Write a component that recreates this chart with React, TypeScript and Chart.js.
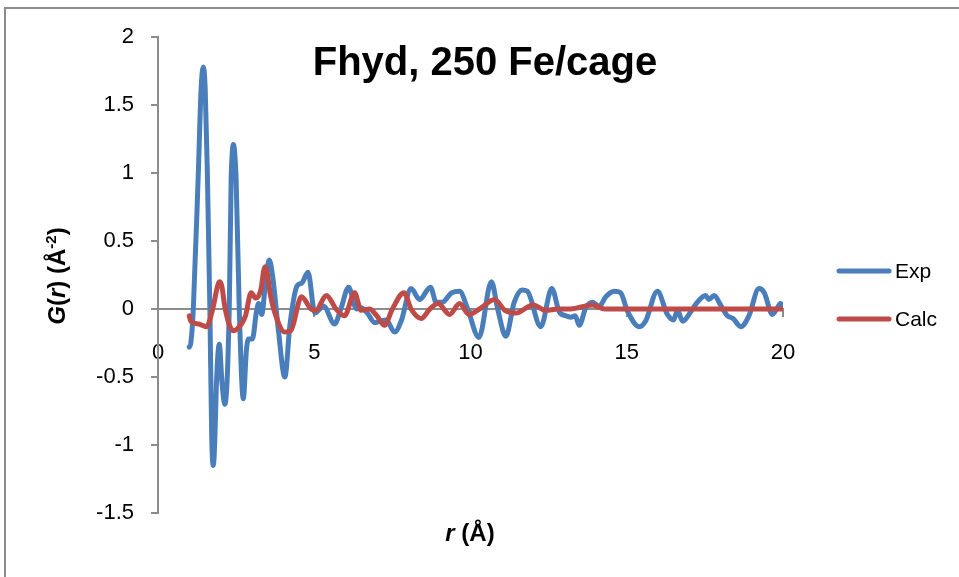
import React, { useEffect, useRef } from "react";
import { Chart, registerables } from "chart.js";

Chart.register(...registerables);

// ---- Data (r in Å, G(r) in Å^-2) ----
const expPoints: [number, number][] = [
  [1.0, -0.28], [1.05, -0.25], [1.13, 0.0], [1.29, 1.0], [1.38, 1.62], [1.45, 1.78], [1.51, 1.62],
  [1.58, 1.0], [1.66, 0.0], [1.72, -0.95], [1.77, -1.15], [1.82, -0.95], [1.87, -0.55], [1.96, -0.26],
  [2.05, -0.55], [2.14, -0.7], [2.28, 0.0], [2.34, 0.95], [2.38, 1.16], [2.41, 1.21], [2.45, 1.16],
  [2.5, 0.95], [2.6, 0.0], [2.73, -0.66], [2.83, -0.3], [2.9, -0.22], [3.02, -0.22],
  [3.15, -0.02], [3.22, 0.04], [3.32, -0.04], [3.45, 0.22], [3.56, 0.36], [3.68, 0.22], [3.85, -0.15],
  [4.06, -0.5], [4.22, -0.12], [4.45, 0.17], [4.6, 0.19], [4.8, 0.27], [5.02, -0.03], [5.3, 0.02],
  [5.65, -0.11], [5.85, 0.0], [6.1, 0.16], [6.35, 0.0], [6.5, 0.01], [6.7, -0.03], [6.93, -0.1],
  [7.1, -0.09], [7.3, -0.08], [7.57, -0.17], [7.78, -0.09], [8.1, 0.15], [8.37, 0.07], [8.72, 0.16],
  [8.9, 0.05], [9.1, 0.05], [9.4, 0.12], [9.65, 0.13], [9.91, 0.0], [10.27, -0.21], [10.67, 0.2],
  [10.87, 0.0], [11.13, -0.2], [11.4, 0.05], [11.65, 0.14], [11.82, 0.13], [12.25, -0.13], [12.6, 0.15],
  [12.84, -0.02], [13.05, -0.05], [13.21, -0.06], [13.35, -0.05], [13.48, -0.12], [13.69, 0.01],
  [13.91, 0.05], [14.12, 0.02], [14.33, 0.09], [14.6, 0.13], [14.8, 0.12], [15.03, -0.02], [15.4, -0.13],
  [15.6, -0.09], [15.98, 0.13], [16.3, -0.04], [16.5, -0.08], [16.62, -0.01], [16.79, -0.09],
  [17.05, -0.02], [17.26, 0.05], [17.52, 0.1], [17.62, 0.07], [17.8, 0.1], [18.0, 0.03], [18.22, -0.05],
  [18.4, -0.07], [18.65, -0.13], [18.91, -0.05], [19.23, 0.15], [19.4, 0.12], [19.66, -0.04],
  [19.8, 0.0], [19.92, 0.04], [20.0, 0.03],
];

const calcPoints: [number, number][] = [
  [1.0, -0.05], [1.05, -0.09], [1.3, -0.11], [1.55, -0.13], [1.75, 0.0], [1.92, 0.18], [1.98, 0.2],
  [2.04, 0.17], [2.15, 0.0], [2.41, -0.16], [2.67, -0.11], [2.8, -0.05], [2.98, 0.12], [3.13, 0.08],
  [3.3, 0.15], [3.38, 0.28], [3.43, 0.31], [3.49, 0.27], [3.6, 0.1], [3.85, -0.1], [4.05, -0.17],
  [4.25, -0.16], [4.59, 0.09], [4.9, 0.0], [5.05, -0.01],
  [5.39, 0.1], [5.7, 0.0], [5.97, -0.05], [6.29, 0.12], [6.5, -0.01], [6.77, 0.0], [7.0, -0.05],
  [7.25, -0.12], [7.5, 0.0], [7.87, 0.12], [8.1, 0.0], [8.42, -0.07], [8.7, 0.0], [8.96, 0.04],
  [9.33, -0.04], [9.65, 0.04], [9.95, -0.04], [10.29, 0.0], [10.77, 0.07], [11.1, -0.01], [11.45, -0.03],
  [12.0, 0.03], [12.4, -0.01], [12.8, 0.0], [13.2, 0.0], [13.9, 0.03], [14.3, 0.0], [15.0, 0.0],
  [16.0, 0.0], [17.0, 0.0], [18.0, 0.0], [19.0, 0.0], [20.0, 0.0],
];

const seriesNames = ["Exp", "Calc"];
const seriesColors = ["#4A7EBB", "#BE4B48"];
const xTicks = [0, 5, 10, 15, 20];
const yTicks = [-1.5, -1, -0.5, 0, 0.5, 1, 1.5, 2];
const titleText = "Fhyd, 250 Fe/cage";

const FONT = '"Liberation Sans", Arial, sans-serif';
const AXIS_GRAY = "#8c8c8c";

type Seg = { t: string; f: string; dy?: number };

function drawRich(ctx: CanvasRenderingContext2D, segs: Seg[], x: number, y: number) {
  let total = 0;
  const widths = segs.map((s) => {
    ctx.font = s.f;
    const w = ctx.measureText(s.t).width;
    total += w;
    return w;
  });
  let cx = x - total / 2;
  ctx.textAlign = "left";
  ctx.textBaseline = "alphabetic";
  segs.forEach((s, i) => {
    ctx.font = s.f;
    ctx.fillText(s.t, cx, y + (s.dy || 0));
    cx += widths[i];
  });
}

const decorPlugin = {
  id: "decor",
  beforeDraw(chart: any) {
    const ctx = chart.ctx as CanvasRenderingContext2D;
    ctx.save();
    ctx.strokeStyle = AXIS_GRAY;
    ctx.lineWidth = 2;
    ctx.beginPath();
    ctx.moveTo(5, 577);
    ctx.lineTo(5, 8);
    ctx.lineTo(959, 8);
    ctx.stroke();
    ctx.restore();
  },
  afterDraw(chart: any) {
    const ctx = chart.ctx as CanvasRenderingContext2D;
    ctx.save();
    ctx.fillStyle = "#000";
    // Title
    ctx.font = `bold 40px ${FONT}`;
    ctx.textAlign = "center";
    ctx.textBaseline = "alphabetic";
    ctx.fillText(titleText, 485, 75);

    // X axis title
    drawRich(
      ctx,
      [
        { t: "r", f: `italic bold 24px ${FONT}` },
        { t: " (Å)", f: `bold 24px ${FONT}` },
      ],
      470,
      541
    );

    // Y axis title (rotated)
    ctx.save();
    ctx.translate(65, 276);
    ctx.rotate(-Math.PI / 2);
    drawRich(
      ctx,
      [
        { t: "G", f: `italic bold 24px ${FONT}` },
        { t: "(", f: `bold 24px ${FONT}` },
        { t: "r", f: `italic bold 24px ${FONT}` },
        { t: ") (Å", f: `bold 24px ${FONT}` },
        { t: "-2", f: `bold 15px ${FONT}`, dy: -9 },
        { t: ")", f: `bold 24px ${FONT}` },
      ],
      0,
      0
    );
    ctx.restore();

    // Legend
    const legendY = [271, 319];
    seriesNames.forEach((name, i) => {
      ctx.strokeStyle = seriesColors[i];
      ctx.lineWidth = 5;
      ctx.lineCap = "round";
      ctx.beginPath();
      ctx.moveTo(839, legendY[i]);
      ctx.lineTo(889, legendY[i]);
      ctx.stroke();
      ctx.fillStyle = "#000";
      ctx.font = `21px ${FONT}`;
      ctx.textAlign = "left";
      ctx.textBaseline = "middle";
      ctx.fillText(name, 895, legendY[i] + 1);
    });
    ctx.restore();
  },
};

export default function App() {
  const canvasRef = useRef<HTMLCanvasElement | null>(null);

  useEffect(() => {
    if (!canvasRef.current) return;
    const chart = new Chart(canvasRef.current, {
      type: "line",
      data: {
        datasets: [
          {
            label: seriesNames[0],
            data: expPoints.map(([x, y]) => ({ x, y })),
            borderColor: seriesColors[0],
            backgroundColor: seriesColors[0],
            borderWidth: 5,
            pointRadius: 0,
            cubicInterpolationMode: "monotone",
            borderCapStyle: "round",
            borderJoinStyle: "round",
            order: 2,
          },
          {
            label: seriesNames[1],
            data: calcPoints.map(([x, y]) => ({ x, y })),
            borderColor: seriesColors[1],
            backgroundColor: seriesColors[1],
            borderWidth: 5,
            pointRadius: 0,
            cubicInterpolationMode: "monotone",
            borderCapStyle: "round",
            borderJoinStyle: "round",
            order: 1,
          },
        ],
      },
      options: {
        responsive: false,
        animation: false,
        devicePixelRatio: 1,
        layout: { padding: { left: 0, top: 37, right: 176, bottom: 64 } },
        plugins: {
          legend: { display: false },
          tooltip: { enabled: false },
          title: { display: false },
        },
        scales: {
          x: {
            type: "linear",
            position: { y: 0 },
            min: 0,
            max: 20,
            afterBuildTicks: (scale: any) => {
              scale.ticks = xTicks.map((v) => ({ value: v }));
            },
            ticks: {
              autoSkip: false,
              maxRotation: 0,
              padding: 24,
              color: "#000",
              font: { family: FONT, size: 22 },
              callback: (v: any) => String(v),
            },
            grid: {
              drawOnChartArea: false,
              drawTicks: true,
              tickLength: 7,
              color: AXIS_GRAY,
              lineWidth: 2,
            },
            border: { display: true, color: AXIS_GRAY, width: 2 },
          },
          y: {
            type: "linear",
            position: "left",
            min: -1.5,
            max: 2,
            afterBuildTicks: (scale: any) => {
              scale.ticks = yTicks.map((v) => ({ value: v }));
            },
            afterFit: (scale: any) => {
              scale.width = 158;
            },
            ticks: {
              autoSkip: false,
              padding: 17,
              color: "#000",
              font: { family: FONT, size: 22 },
              callback: (v: any) => String(v),
            },
            grid: {
              drawOnChartArea: false,
              drawTicks: true,
              tickLength: 7,
              color: AXIS_GRAY,
              lineWidth: 2,
            },
            border: { display: true, color: AXIS_GRAY, width: 2 },
          },
        },
      } as any,
      plugins: [decorPlugin],
    });
    return () => chart.destroy();
  }, []);

  return (
    <div style={{ position: "absolute", left: 0, top: 0, width: 959, height: 577, background: "#fff" }}>
      <canvas ref={canvasRef} width={959} height={577} style={{ display: "block" }} />
    </div>
  );
}
